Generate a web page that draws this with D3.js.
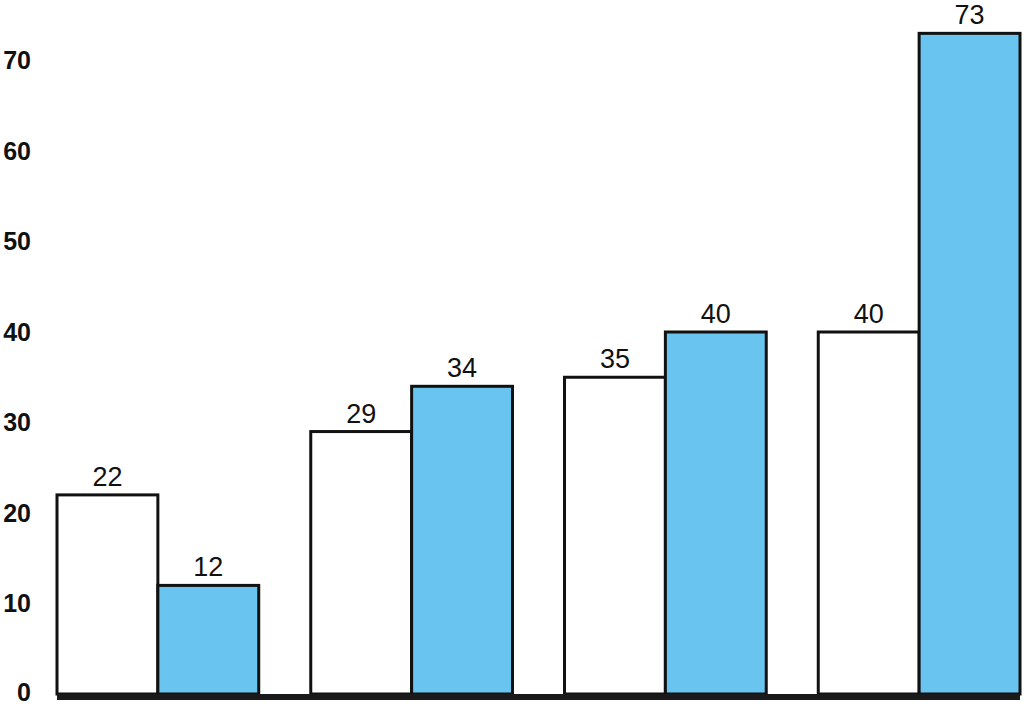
<!DOCTYPE html>
<html>
<head>
<meta charset="utf-8">
<script src="https://cdn.jsdelivr.net/npm/d3@7"></script>
<style>
  body { margin: 0; background: #fff; }
  svg { display: block; font-family: "Liberation Sans", Arial, sans-serif; }
</style>
</head>
<body>
<svg id="chart" width="1024" height="706"></svg>
<script>
var groups = ['g1', 'g2', 'g3', 'g4']
var whiteValues = [22, 29, 35, 40]
var blueValues = [12, 34, 40, 73]
var yTicks = [0, 10, 20, 30, 40, 50, 60, 70]

var series = [
  {key: 'white', values: whiteValues, fill: '#ffffff'},
  {key: 'blue', values: blueValues, fill: '#69c4ef'}
]

var svg = d3.select('#chart')

var x0 = d3.scaleBand().domain(groups).range([57, 1020]).paddingInner(0.205).paddingOuter(0)
var x1 = d3.scaleBand().domain(series.map(d => d.key)).range([0, x0.bandwidth()]).padding(0)
var y = d3.scaleLinear().domain([0, 70]).range([694, 60.5])

// y axis labels, no line
var yAxis = d3.axisLeft(y).tickValues(yTicks).tickSize(0).tickPadding(0)
var ya = svg.append('g').attr('transform', 'translate(31,0)').call(yAxis)
ya.select('.domain').remove()
ya.selectAll('text')
  .attr('font-family', '"Liberation Sans", Arial, sans-serif')
  .attr('font-size', 25)
  .attr('font-weight', 'bold')
  .attr('fill', '#111')
// keep the bottom label inside the picture
ya.selectAll('.tick').filter(d => d === 0).select('text').attr('dy', '0.25em')

// bars
var g = svg.selectAll('g.grp').data(groups).enter().append('g')
  .attr('class', 'grp')
  .attr('transform', d => 'translate(' + x0(d) + ',0)')

series.forEach(function(s){
  g.append('rect')
    .attr('x', x1(s.key))
    .attr('y', (d, i) => y(s.values[i]))
    .attr('width', x1.bandwidth())
    .attr('height', (d, i) => y(0) - y(s.values[i]))
    .attr('fill', s.fill)
    .attr('stroke', '#111')
    .attr('stroke-width', 3)

  g.append('text')
    .attr('x', x1(s.key) + x1.bandwidth() / 2)
    .attr('y', (d, i) => y(s.values[i]) - 9)
    .attr('text-anchor', 'middle')
    .attr('font-size', 27)
    .attr('fill', '#111')
    .text((d, i) => s.values[i])
})

// thick baseline
svg.append('rect')
  .attr('x', x0.range()[0])
  .attr('y', y(0))
  .attr('width', x0.range()[1] - x0.range()[0])
  .attr('height', 6)
  .attr('fill', '#1a1a1a')
</script>
</body>
</html>
